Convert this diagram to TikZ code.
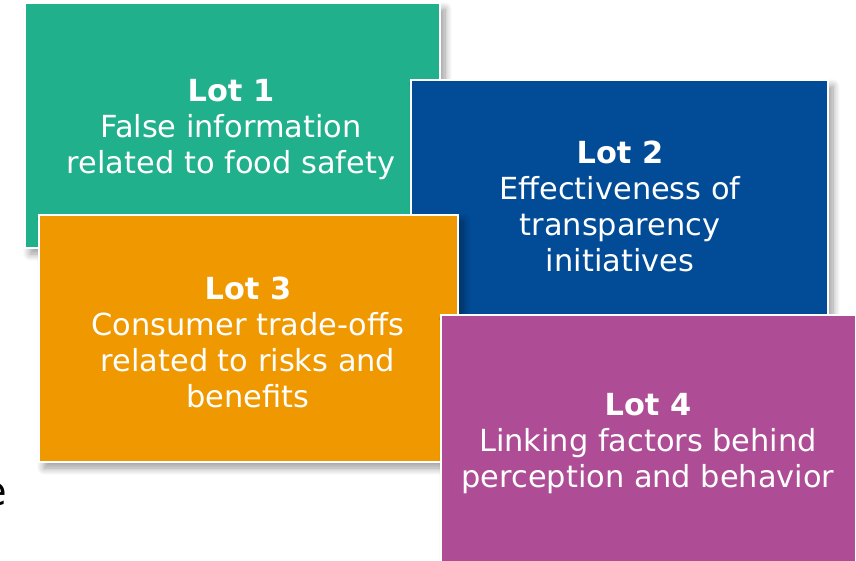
\documentclass[tikz,border=0pt]{standalone}
\usepackage{fontspec}
\setmainfont{DejaVu Sans}
\usetikzlibrary{shadows.blur}
\definecolor{lotgreen}{RGB}{33,176,140}
\definecolor{lotblue}{RGB}{2,75,150}
\definecolor{lotorange}{RGB}{240,152,0}
\definecolor{lotpurple}{RGB}{174,77,149}
\tikzset{
  lotbox/.style={draw=white, line width=2.2pt,
    blur shadow={shadow xshift=5pt, shadow yshift=-6pt, shadow blur radius=7pt, shadow opacity=40, shadow blur steps=10}},
  lottext/.style={text=white, align=center, inner sep=0pt, anchor=north,
    font=\fontsize{30.4}{36}\selectfont}
}
\begin{document}
\begin{tikzpicture}[x=1pt,y=-1pt]
\useasboundingbox (0,0) rectangle (856,560);
\clip (0,0) rectangle (856,560);
% letter fragment at the left edge
\node[anchor=base east, inner sep=0pt, font=\fontsize{40}{48}\selectfont, text=black] (frag) at (7,505) {e};
% boxes
\path[lotbox, fill=lotgreen] (25,3) rectangle (440,248);
\path[lotbox, fill=lotblue] (411,80) rectangle (828,315);
\path[lotbox, fill=lotorange] (39,215) rectangle (458,462);
\path[lotbox, fill=lotpurple] (441,315) rectangle (856,580);
% texts
\node[lottext] (t1) at (231,79.5) {\textbf{Lot 1}\\False information\\related to food safety};
\node[lottext] (t2) at (620,140.5) {\textbf{Lot 2}\\Effectiveness of\\transparency\\initiatives};
\node[lottext] (t3) at (248,276.5) {\textbf{Lot 3}\\Consumer trade-offs\\related to risks and\\benefits};
\node[lottext] (t4) at (648,393.5) {\textbf{Lot 4}\\Linking factors behind\\perception and behavior};
\end{tikzpicture}
\end{document}
